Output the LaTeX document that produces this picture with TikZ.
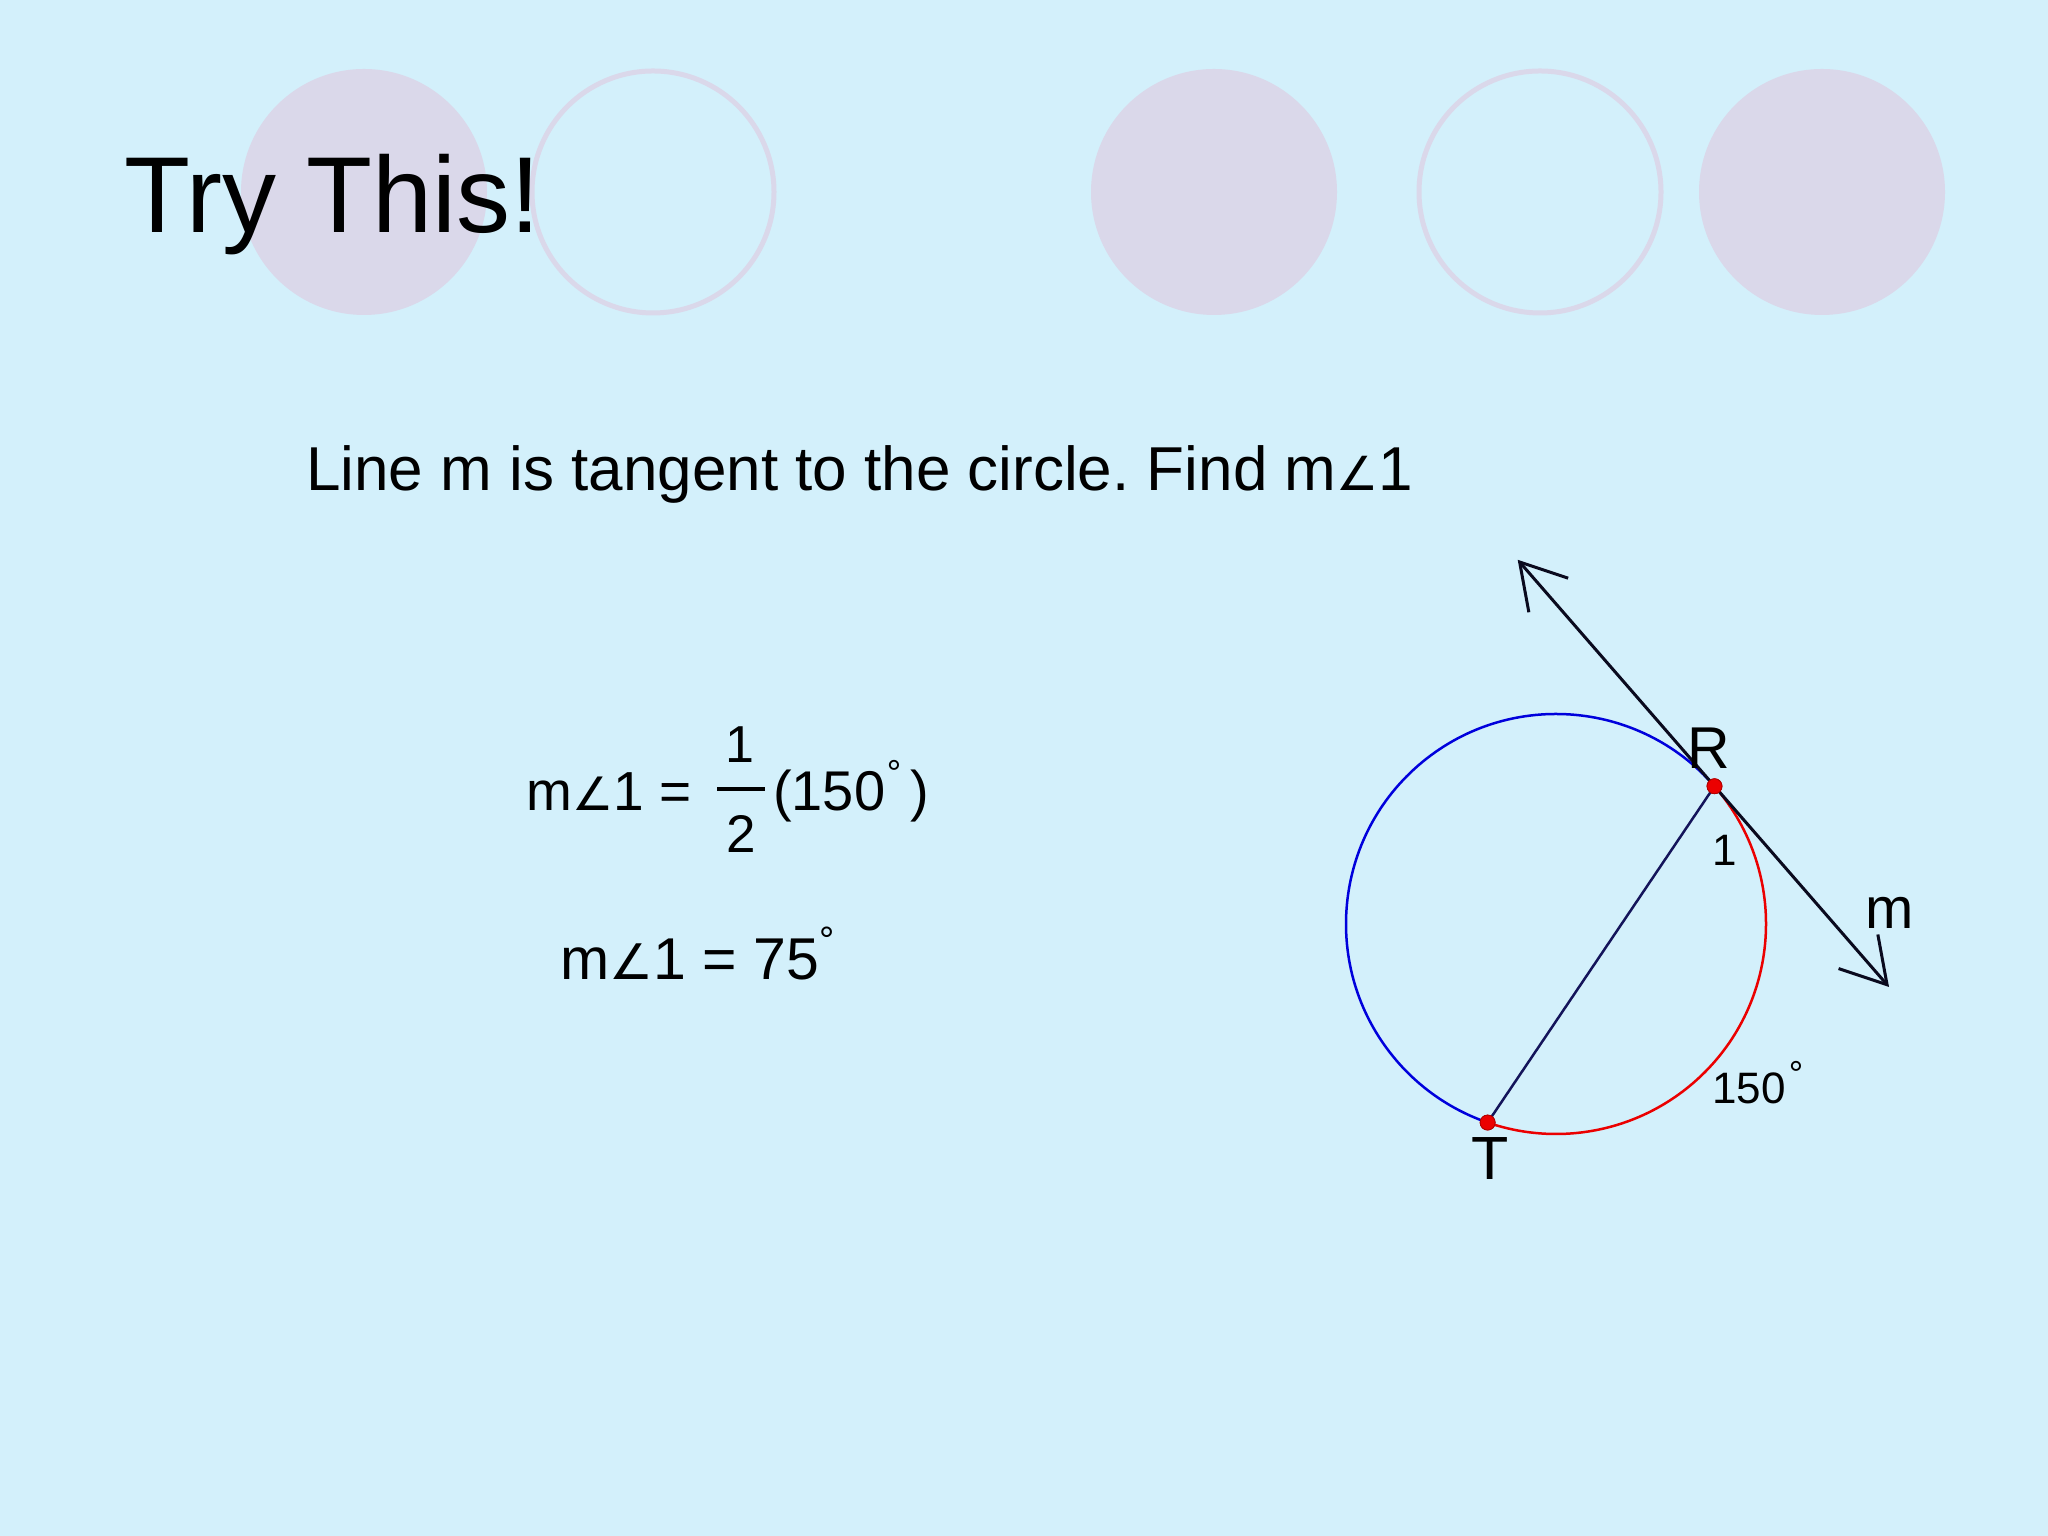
\documentclass[tikz,border=0pt]{standalone}
\usepackage{fontspec}
\setmainfont{Liberation Sans}
\newfontfamily\symfnt{DejaVu Sans}
\usetikzlibrary{arrows.meta,calc}
\definecolor{bgblue}{RGB}{211,240,251}
\definecolor{lav}{RGB}{218,216,234}
\definecolor{chordc}{RGB}{20,20,90}
\definecolor{tangc}{RGB}{10,10,30}
\definecolor{cblue}{RGB}{0,0,220}
\definecolor{cred}{RGB}{235,0,0}
\newcommand\fsz[1]{\fontsize{#1}{#1}\selectfont}
\newcommand\angsym[1]{{\symfnt\fontsize{#1}{#1}\selectfont ∠}}
\frenchspacing
\begin{document}
\begin{tikzpicture}[x=1pt,y=1pt,
  txt/.style={inner sep=0pt, anchor=base west, text=black},
  lbl/.style={inner sep=0pt, anchor=base, text=black},
  deco/.style={fill=lav},
  ring/.style={draw=lav, line width=5pt},
  geo/.style={line width=2.5pt},
  barb/.style={{Straight Barb[length=44pt,width=52pt]}-{Straight Barb[length=44pt,width=52pt]}},
  dot/.style={fill=cred, draw=red!70!black, line width=0.8pt}]
\useasboundingbox (0,0) rectangle (2048,1536);
\fill[bgblue] (0,0) rectangle (2048,1536);
% decorative circles
\fill[deco] (364,1344) circle (123);
\draw[ring] (653,1344) circle (121);
\fill[deco] (1214,1344) circle (123);
\draw[ring] (1540,1344) circle (121);
\fill[deco] (1822,1344) circle (123);
% title
\node[txt, font=\fsz{108}] (title) at (124,1303) {Try This!};
% question
\node[txt, font=\fsz{62}] (question) at (306,1045) {Line m is tangent to the circle. Find m\angsym{47}1};
% formula 1
\node[txt, font=\fsz{55}] (f1a) at (526,725) {m\angsym{46}1 =};
\node[lbl, font=\fsz{52}] (num) at (740,773) {1};
\node[lbl, font=\fsz{53}] (den) at (741,683) {2};
\draw[line width=4.5pt] (717,747) -- (765,747);
\node[txt, font=\fsz{56}] (f1b) at (773,725) {(150};
\node[lbl, font=\fsz{36}] (f1deg) at (894,750) {°};
\node[txt, font=\fsz{56}] (f1c) at (910,725) {)};
% formula 2
\node[txt, font=\fsz{59}] (f2) at (560,556) {m\angsym{49}1 = 75};
\node[lbl, font=\fsz{38}] (f2deg) at (827,582) {°};
% geometry
\coordinate (O) at (1556,612);
\coordinate (R) at ($(O)+(41:210)$);
\coordinate (T) at ($(O)+(251:210)$);
\coordinate (A) at ($(R)+(131:300)$);
\coordinate (B) at ($(R)+(-49:266)$);
\draw[geo, cblue] (R) arc[start angle=41, end angle=251, radius=210];
\draw[geo, cred] (R) arc[start angle=41, end angle=-109, radius=210];
\draw[geo, chordc] (R) -- (T);
\draw[line width=3pt, tangc, barb] (A) -- (B);
\fill[dot] (R) circle (7.5);
\fill[dot] (T) circle (7.5);
\draw[dot] (R) circle (7.5);
\draw[dot] (T) circle (7.5);
% labels
\node[lbl, font=\fsz{59}] (lR) at (1709,767) {R};
\node[lbl, font=\fsz{44}] (l1) at (1725,670) {1};
\node[lbl, font=\fsz{58}] (lm) at (1890,607) {m};
\node[txt, font=\fsz{44}] (l150) at (1712,432) {150};
\node[lbl, font=\fsz{36}] (l150deg) at (1796,449) {°};
\node[lbl, font=\fsz{61}] (lT) at (1490,356) {T};
\end{tikzpicture}
\end{document}
